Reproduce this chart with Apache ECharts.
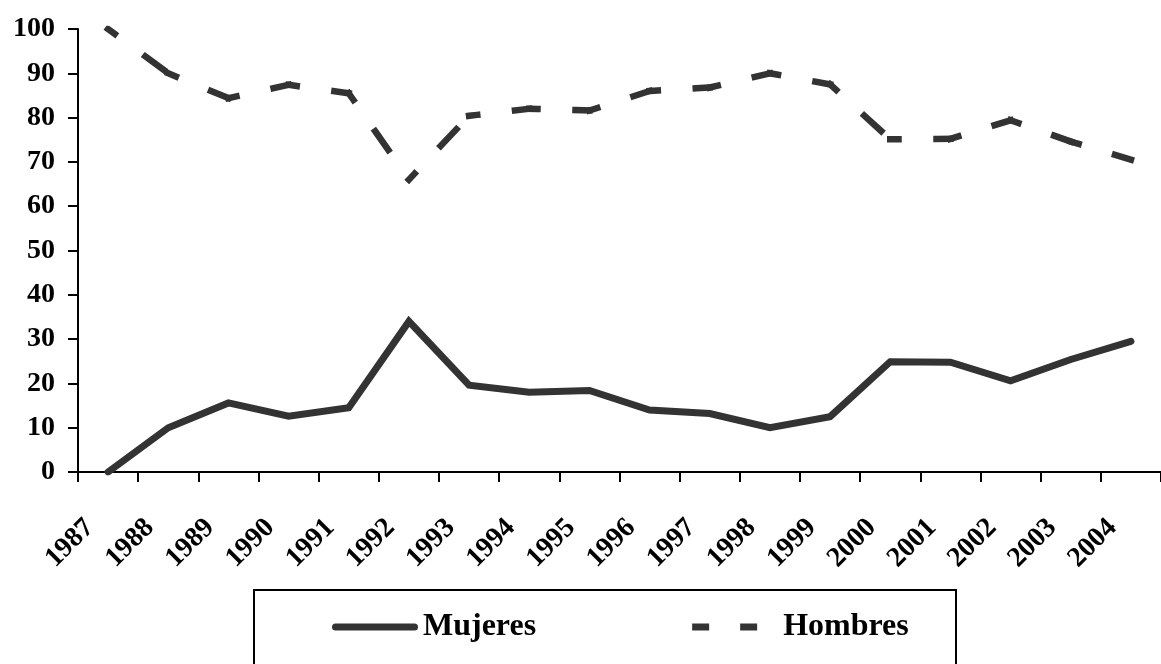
<!DOCTYPE html>
<html>
<head>
<meta charset="utf-8">
<script src="https://cdn.jsdelivr.net/npm/echarts@6/dist/echarts.min.js"></script>
<style>
html,body{margin:0;padding:0;background:#fff;}
#chart{width:1161px;height:664px;}
</style>
</head>
<body>
<div id="chart"></div>
<script>
var years = ['1987','1988','1989','1990','1991','1992','1993','1994','1995','1996','1997','1998','1999','2000','2001','2002','2003','2004'];
var mujeres = [0, 10.0, 15.6, 12.6, 14.5, 34.0, 19.6, 18.0, 18.4, 14.0, 13.2, 10.0, 12.5, 24.9, 24.8, 20.6, 25.4, 29.5];
var hombres = [100, 90.0, 84.4, 87.4, 85.5, 66.0, 80.4, 82.0, 81.6, 86.0, 86.8, 90.0, 87.5, 75.1, 75.2, 79.4, 74.6, 70.5];
var seriesNames = ['Mujeres', 'Hombres'];

var FONT = '"Liberation Serif", "Times New Roman", serif';
var INK = '#333333';

// Hombres is drawn segment by segment so that the dash pattern restarts at each point,
// as in the original (spreadsheet-style) rendering.
var hombresSeries = [];
for (var i = 0; i < hombres.length - 1; i++) {
  var seg = hombres.map(function (v, j) { return (j === i || j === i + 1) ? v : null; });
  hombresSeries.push({
    name: seriesNames[1], type: 'line', data: seg,
    symbol: 'none', showSymbol: false, connectNulls: false,
    lineStyle: {color: INK, width: 6.5, type: [23, 38], dashOffset: 14.75, cap: 'square', join: 'miter'},
    itemStyle: {color: INK},
    z: 2
  });
}

var chart = echarts.init(document.getElementById('chart'), null, {renderer: 'canvas'});
chart.setOption({
  animation: false,
  backgroundColor: '#ffffff',
  grid: {left: 78, top: 29, width: 1089, height: 443, containLabel: false},
  graphic: [{
    type: 'rect',
    shape: {x: 254, y: 590, width: 702, height: 110},
    style: {fill: 'none', stroke: '#000', lineWidth: 2},
    silent: true, z: 0
  }],
  legend: {
    left: 332, top: 611, padding: 0,
    itemGap: 156,
    itemWidth: 86, itemHeight: 7,
    textStyle: {fontFamily: FONT, fontWeight: 'bold', fontSize: 32, color: '#000', lineHeight: 32},
    data: [
      {name: seriesNames[0], icon: 'path://M3.5,0 L82.5,0 A3.5,3.5 0 0 1 82.5,7 L3.5,7 A3.5,3.5 0 0 1 3.5,0 Z', itemStyle: {color: INK}},
      {name: seriesNames[1], icon: 'path://M0,0 L17,0 L17,7 L0,7 Z M48,0 L65,0 L65,7 L48,7 Z M86,3.5 L86,3.5 Z', itemStyle: {color: INK}}
    ]
  },
  xAxis: {
    type: 'category',
    data: years,
    boundaryGap: true,
    axisLine: {show: true, lineStyle: {color: '#000', width: 2}},
    axisTick: {show: true, length: 10, lineStyle: {color: '#000', width: 2}},
    axisLabel: {rotate: 45, interval: 0, margin: 33, padding: [0, 26, 0, 0], fontFamily: FONT, fontWeight: 'bold', fontSize: 28, color: '#000'},
    splitLine: {show: false}
  },
  yAxis: {
    type: 'value',
    min: 0, max: 100, interval: 10,
    axisLine: {show: true, lineStyle: {color: '#000', width: 2}},
    axisTick: {show: true, length: 10, lineStyle: {color: '#000', width: 2}},
    axisLabel: {margin: 23, fontFamily: FONT, fontWeight: 'bold', fontSize: 28, color: '#000'},
    splitLine: {show: false}
  },
  series: [
    {
      name: seriesNames[0], type: 'line', data: mujeres,
      symbol: 'none', showSymbol: false,
      lineStyle: {color: INK, width: 7, cap: 'round', join: 'miter'},
      itemStyle: {color: INK},
      z: 3
    }
  ].concat(hombresSeries)
});
</script>
</body>
</html>
